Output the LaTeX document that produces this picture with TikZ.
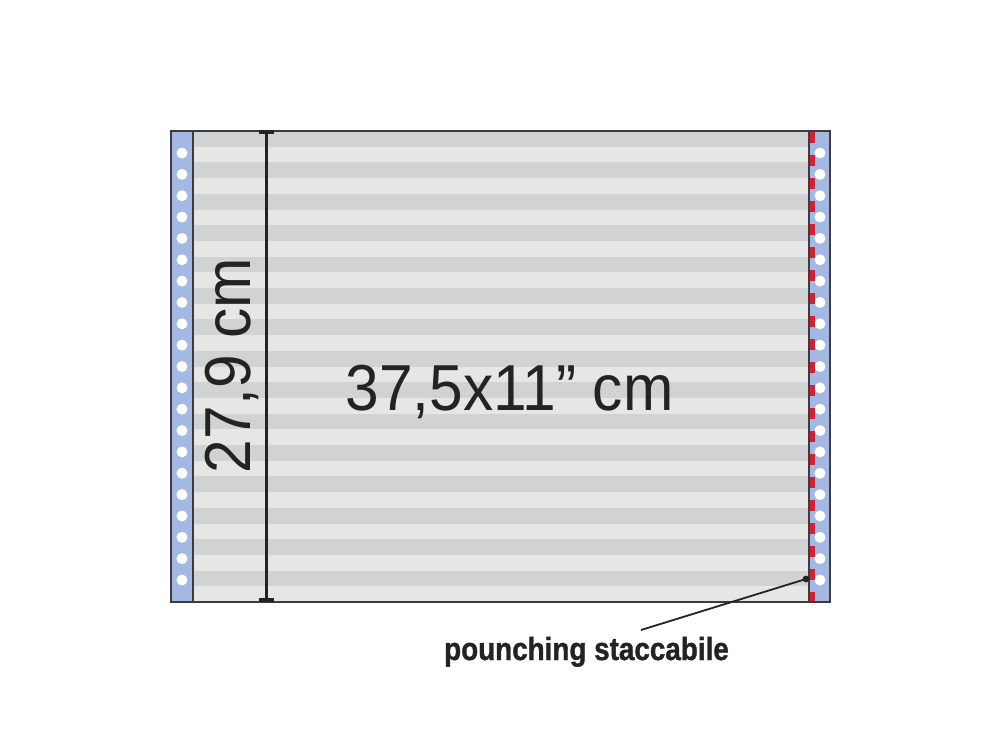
\documentclass[tikz,border=0pt]{standalone}
\usepackage{fontspec}
\setmainfont{Liberation Sans}
\newfontfamily\labelfont[FakeBold=1.2]{Liberation Sans Bold}
\usetikzlibrary{calc}
\definecolor{stripedark}{RGB}{209,210,212}
\definecolor{stripelight}{RGB}{230,230,231}
\definecolor{stripblue}{RGB}{163,184,227}
\definecolor{perfred}{RGB}{212,32,48}
\definecolor{inkdark}{RGB}{35,35,35}
\definecolor{edgegray}{RGB}{60,60,62}
\tikzset{
  edgeline/.style={draw=edgegray, line width=0.75pt},
  dimline/.style={draw=inkdark, line width=1.5pt},
  dimcap/.style={draw=inkdark, line width=2pt},
  hole/.style={fill=white},
  perfline/.style={draw=perfred, line width=2.25pt, dash pattern=on 5.25pt off 6.25pt},
  leader/.style={draw=inkdark, line width=0.9pt},
  bigtext/.style={text=inkdark, inner sep=0pt, font=\fontsize{32.5}{32.5}\selectfont},
  labeltext/.style={text=inkdark, inner sep=0pt, font=\fontsize{16}{16}\selectfont\labelfont}
}
\begin{document}
\begin{tikzpicture}[x=0.5pt,y=-0.5pt]
\useasboundingbox[fill=white] (0,0) rectangle (1000,733);
% paper body stripes
\fill[stripelight] (193,131) rectangle (809,602);
\foreach \i in {0,2,...,28} {
  \fill[stripedark] (193,{131+\i*15.7}) rectangle (809,{131+(\i+1)*15.7});
}
% feed strips
\fill[stripblue] (171,131) rectangle (193,602);
\fill[stripblue] (809,131) rectangle (830,602);
\foreach \k in {0,...,20} {
  \fill[hole] (182,{153+\k*21.35}) circle[radius=2.75pt];
  \fill[hole] (820,{153+\k*21.35}) circle[radius=2.75pt];
}
% perforation
\draw[perfline] (812.5,132) -- (812.5,602);
% outlines
\draw[edgeline] (171,131) rectangle (830,602);
\draw[edgeline] (193,131) -- (193,602);
\draw[edgeline] (809,131) -- (809,602);
% dimension line
\coordinate (dimtop) at (266,132);
\coordinate (dimbot) at (266,600);
\draw[dimline] (dimtop) -- (dimbot);
\draw[dimcap] ($(dimtop)+(-7.5,0)$) -- ($(dimtop)+(7.5,0)$);
\draw[dimcap] ($(dimbot)+(-7.5,0)$) -- ($(dimbot)+(7.5,0)$);
% texts
\node[bigtext, anchor=base, rotate=90] (height) at (250,365.5) {\scalebox{0.93}[1]{27,9 cm}};
\node[bigtext, anchor=base] (size) at (509.5,410) {\scalebox{0.93}[1]{37,5x11” cm}};
\node[labeltext, anchor=base] (label) at (586.5,660) {\scalebox{0.87}[1]{pounching staccabile}};
% leader
\coordinate (perfdot) at (806,579);
\coordinate (leaderend) at (641,630);
\fill[inkdark] (perfdot) circle[radius=1.7pt];
\draw[leader] (perfdot) -- (leaderend);
\end{tikzpicture}
\end{document}
